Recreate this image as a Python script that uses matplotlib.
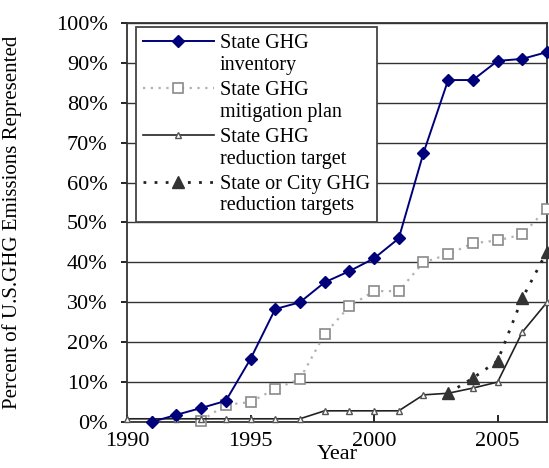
import matplotlib.pyplot as plt
from matplotlib.ticker import MultipleLocator, FuncFormatter

plt.rcParams['font.family'] = ['Liberation Serif', 'DejaVu Serif']

# share of U.S. GHG emissions covered, by year
inv_years = [1991, 1992, 1993, 1994, 1995, 1996, 1997, 1998, 1999,
             2000, 2001, 2002, 2003, 2004, 2005, 2006, 2007]
inventory = [0, 1.8, 3.5, 5.3, 15.8, 28.3, 30, 35, 37.8,
             41, 46, 67.4, 85.7, 85.7, 90.5, 91, 92.7]

mit_years = [1993, 1994, 1995, 1996, 1997, 1998, 1999, 2000,
             2001, 2002, 2003, 2004, 2005, 2006, 2007]
mitigation = [0.3, 4.3, 5, 8.3, 10.8, 22, 29, 32.8,
              32.8, 40, 42, 44.8, 45.5, 47, 53.5]

red_years = list(range(1990, 2008))
reduction = [0.8, 0.8, 0.8, 0.8, 0.8, 0.8, 0.8, 0.8, 2.8,
             2.8, 2.8, 2.8, 6.8, 7.2, 8.5, 10, 22.5, 30]

city_years = [2003, 2004, 2005, 2006, 2007]
city = [7.2, 11, 15.3, 31, 42.7]

labels = ["State GHG\ninventory", "State GHG\nmitigation plan",
          "State GHG\nreduction target", "State or City GHG\nreduction targets"]

fig = plt.figure(figsize=(5.49, 4.68), dpi=100)
ax = fig.add_axes([0.2313, 0.0983, 0.765, 0.8526])

ax.plot(inv_years, inventory, color='#00007a', lw=1.4, marker='D', ms=6,
        mfc='#00007a', mec='#00007a', label=labels[0], clip_on=False, zorder=5)
ax.plot(mit_years, mitigation, color='#b0b0b0', lw=1.6, ls=(0, (1, 2.5)),
        marker='s', ms=6.5, mfc='white', mec='#8a8a8a', mew=1.2,
        label=labels[1], clip_on=False, zorder=4)
ax.plot(red_years, reduction, color='#222222', lw=1.2, marker='^', ms=5,
        mfc='white', mec='#555555', mew=1, label=labels[2], clip_on=False, zorder=4)
ax.plot(city_years, city, color='#222222', lw=2, ls=(0, (1, 3)),
        marker='^', ms=8, mfc='#333333', mec='#333333',
        label=labels[3], clip_on=False, zorder=4)

ax.set_xlim(1990, 2007)
ax.set_ylim(0, 100)
ax.xaxis.set_major_locator(MultipleLocator(5))
ax.yaxis.set_major_locator(MultipleLocator(10))
ax.yaxis.set_major_formatter(FuncFormatter(lambda v, p: f"{v:.0f}%"))
ax.tick_params(axis='x', direction='in', length=5, width=1.2, labelsize=16, pad=7)
ax.tick_params(axis='y', direction='out', length=4, width=1.2, labelsize=16, pad=10)
ax.grid(axis='y', color='#333333', lw=1)
ax.set_axisbelow(True)
for s in ax.spines.values():
    s.set_linewidth(1.3)
    s.set_color('#333333')

ax.set_xlabel("Year", fontsize=16, labelpad=-4)
ax.set_ylabel("Percent of U.S.GHG Emissions Represented", fontsize=15)
ax.yaxis.set_label_coords(-0.25, 0.5)

leg = ax.legend(loc='upper left', bbox_to_anchor=(0.0214, 0.99),
                fontsize=14.5, frameon=True, fancybox=False,
                edgecolor='#444444', framealpha=1, handlelength=3.5,
                handletextpad=0.3, labelspacing=0.3, borderpad=0.35,
                borderaxespad=0)
leg.get_frame().set_linewidth(1.3)
# put each key beside the first line of its two-line label
for col in leg._legend_handle_box.get_children():
    for row in col.get_children():
        row.align = 'top'

fig.savefig("out.png", dpi=100)
